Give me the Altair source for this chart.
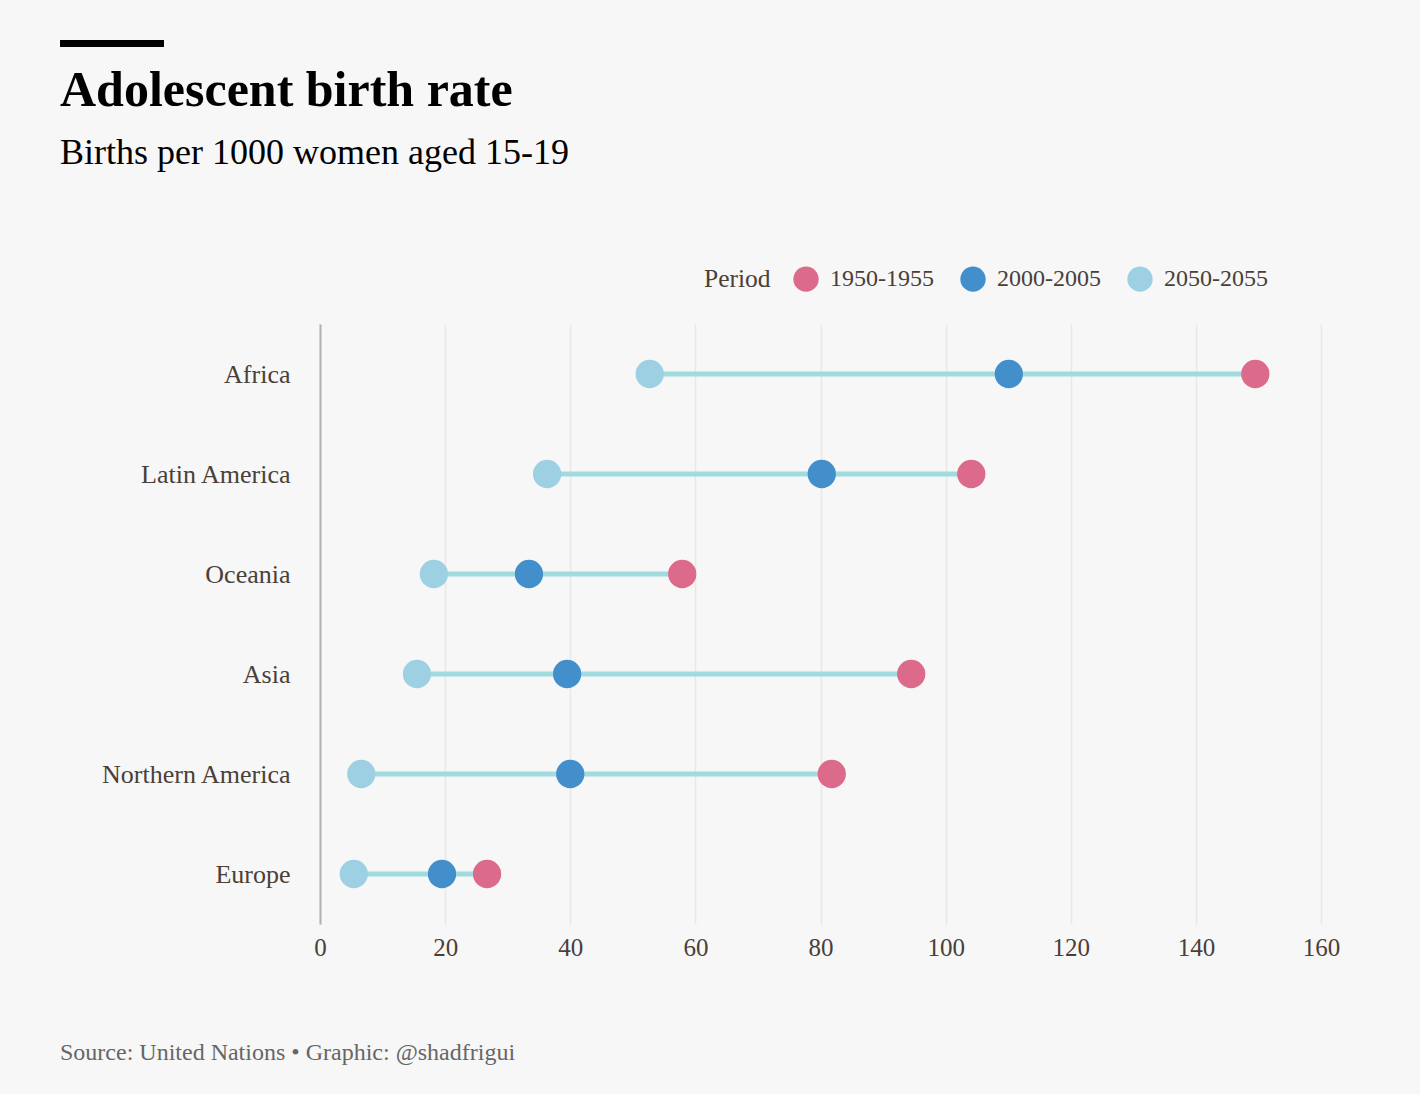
import altair as alt
import pandas as pd

regions = ["Africa", "Latin America", "Oceania", "Asia", "Northern America", "Europe"]
periods = ["1950-1955", "2000-2005", "2050-2055"]
rate_1950 = [149.5, 104.1, 57.9, 94.5, 81.8, 26.7]
rate_2000 = [110.1, 80.2, 33.4, 39.5, 40.0, 19.5]
rate_2050 = [52.7, 36.3, 18.2, 15.5, 6.6, 5.4]
colors = ["#dc6a8a", "#428fcb", "#9dd0e3"]
x_ticks = [0, 20, 40, 60, 80, 100, 120, 140, 160]

TITLE = "Adolescent birth rate"
SUBTITLE = "Births per 1000 women aged 15-19"
SOURCE = "Source: United Nations \u2022 Graphic: @shadfrigui"

rows = []
for p, vals in zip(periods, [rate_1950, rate_2000, rate_2050]):
    for r, v in zip(regions, vals):
        rows.append({"region": r, "period": p, "value": v})
df = pd.DataFrame(rows)

FONT = "Liberation Serif"
LABEL_COLOR = "#4a4038"

y_enc = alt.Y("region:N", sort=regions, title=None,
              scale=alt.Scale(type="point", padding=0.5))
x_scale = alt.Scale(domain=[0, 160], nice=False)

base = alt.Chart(df)

lines = base.mark_rule(color="#a0dcdf", strokeWidth=5).encode(
    x=alt.X("min(value):Q", scale=x_scale,
            axis=alt.Axis(values=x_ticks, title=None)),
    x2="max(value):Q",
    y=y_enc,
)

dots = base.mark_circle(size=800, opacity=1).encode(
    x=alt.X("value:Q", scale=x_scale),
    y=y_enc,
    color=alt.Color("period:N", sort=periods,
                    scale=alt.Scale(domain=periods, range=colors),
                    legend=alt.Legend(title="Period", orient="none",
                                      legendX=384, legendY=-58,
                                      direction="horizontal",
                                      titleOrient="left")),
)

def text_layer(txt, x, y, size, weight="normal", color="#000000"):
    return alt.Chart(pd.DataFrame({"t": [txt]})).mark_text(
        align="left", baseline="alphabetic", font=FONT, fontSize=size,
        fontWeight=weight, color=color,
    ).encode(x=alt.value(x), y=alt.value(y), text="t:N")

bar = alt.Chart(pd.DataFrame({"a": [0]})).mark_rule(
    color="#000000", strokeWidth=7, strokeCap="butt"
).encode(x=alt.value(-260), x2=alt.value(-156), y=alt.value(-280.5))

title = text_layer(TITLE, -260, -218, 50, "bold")
subtitle = text_layer(SUBTITLE, -260, -160, 36)
source = text_layer(SOURCE, -260, 736, 24, color="#666666")

chart = alt.layer(lines, dots, bar, title, subtitle, source).properties(
    width=1001, height=600,
    autosize=alt.AutoSizeParams(type="none"),
    padding={"left": 320, "top": 324, "right": 99, "bottom": 170},
    background="#f7f7f7",
).configure_view(stroke=None).configure_axisX(
    grid=True, gridColor="#e8e8e8", gridWidth=1.5, domain=False, ticks=False,
    labelFont=FONT, labelFontSize=25, labelColor=LABEL_COLOR, labelPadding=11,
    labelFlush=False,
).configure_axisY(
    grid=False, domain=True, domainColor="#b5b0ab", domainWidth=2, ticks=False,
    labelFont=FONT, labelFontSize=26, labelColor=LABEL_COLOR, labelPadding=30,
    labelLimit=0,
).configure_legend(
    labelFont=FONT, labelFontSize=24, labelColor=LABEL_COLOR,
    titleFont=FONT, titleFontSize=25.5, titleColor=LABEL_COLOR, titleFontWeight="normal",
    symbolSize=640, symbolType="circle", symbolStrokeWidth=0, symbolOpacity=1,
    labelOffset=11, columnPadding=26, titlePadding=22, padding=0, labelLimit=0,
)

chart.save("out.html", embed_options={"renderer": "svg", "actions": False})
